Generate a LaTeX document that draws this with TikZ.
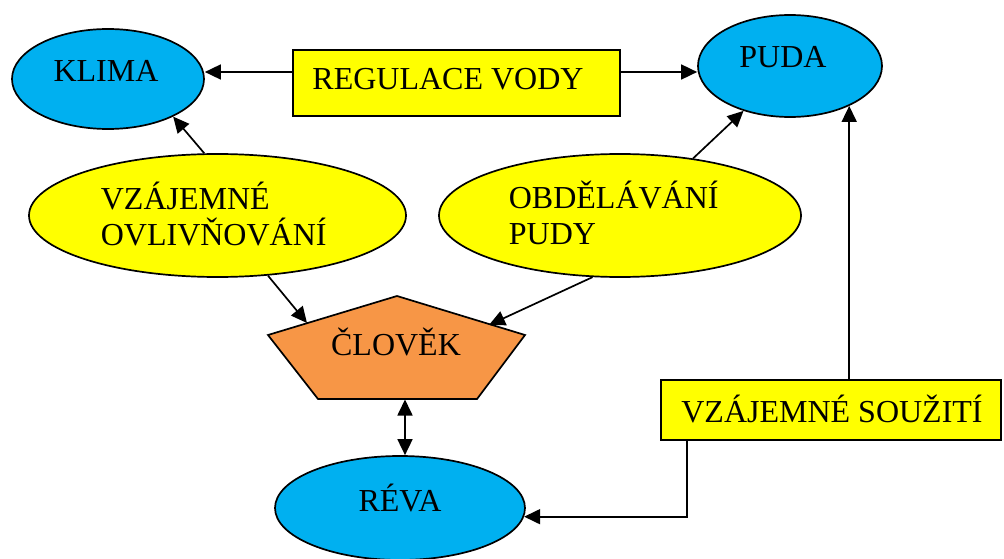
\documentclass[tikz,border=0pt]{standalone}
\usepackage{fontspec}
\setmainfont{Liberation Serif}
\usetikzlibrary{arrows.meta,shapes.geometric}
\definecolor{skyb}{HTML}{00B0F0}
\definecolor{yel}{HTML}{FFFF00}
\definecolor{orng}{HTML}{F79646}
\begin{document}
\begin{tikzpicture}[x=1pt,y=-1pt,line width=1.7pt,
  ell/.style={ellipse,draw=black,inner sep=0pt},
  box/.style={rectangle,draw=black,fill=yel,inner sep=0pt},
  txt/.style={font=\fontsize{32}{36}\selectfont,inner sep=0pt},
  arr/.style={-{Triangle[length=16pt,width=15pt]}},
  arrb/.style={{Triangle[length=16pt,width=15pt]}-{Triangle[length=16pt,width=15pt]}}]
\path[use as bounding box] (0,0) rectangle (1004,559);

% shapes
\node[ell,fill=skyb,minimum width=192pt,minimum height=100pt] (klima) at (108,79) {};
\node[ell,fill=skyb,minimum width=184pt,minimum height=102pt] (puda) at (790,66) {};
\node[ell,fill=yel,minimum width=377pt,minimum height=123pt] (ovl) at (217.5,215.5) {};
\node[ell,fill=yel,minimum width=362pt,minimum height=123pt] (obd) at (620,215.5) {};
\node[ell,fill=skyb,minimum width=250pt,minimum height=104pt] (reva) at (400,508) {};
\node[box,minimum width=327pt,minimum height=66pt] (reg) at (456.5,83) {};
\node[box,minimum width=340pt,minimum height=60pt] (souz) at (831,410) {};

\coordinate (pT) at (397,296);
\coordinate (pR) at (525,335);
\coordinate (pBR) at (477,399);
\coordinate (pBL) at (318,399);
\coordinate (pL) at (268,335);
\draw[fill=orng,line join=miter] (pT) -- (pR) -- (pBR) -- (pBL) -- (pL) -- cycle;
\coordinate (clA) at (307,323);
\coordinate (clB) at (489,325);
\coordinate (clC) at (405,399.5);

% connectors
\coordinate (rw) at ([yshift=11pt]reg.west);
\coordinate (re) at ([yshift=11pt]reg.east);
\draw[arr] (rw) -- (rw -| klima.east);
\draw[arr] (re) -- (re -| puda.west);
\draw[arr] (ovl.102) -- (klima.-30);
\draw[arr] (obd.38) -- (puda.-136);
\draw[arr] (ovl.-50) -- (clA);
\draw[arr] (obd.-114) -- (clB);
\draw[arrb] (clC) -- (clC |- reva.north);
\draw[arr] (souz.north -| puda.-34) -- (puda.-34);
\draw[arr] ([xshift=27pt]souz.south west) |- (reva.-4);

% texts
\node[txt,anchor=base] (tklima) at (106,82) {KLIMA};
\node[txt,anchor=base] (tpuda) at (783,68) {PUDA};
\node[txt,anchor=base] (treg) at (448,90) {REGULACE VODY};
\node[txt,align=left,anchor=south west,text depth=0pt] (tovl) at (100,246) {VZÁJEMNÉ\\OVLIVŇOVÁNÍ};
\node[txt,align=left,anchor=south west,text depth=0pt] (tobd) at (508,245) {OBDĚLÁVÁNÍ\\PUDY};
\node[txt,anchor=base] (tcl) at (396,355) {ČLOVĚK};
\node[txt,anchor=base] (treva) at (400,511) {RÉVA};
\node[txt,anchor=base] (tsouz) at (832,422) {VZÁJEMNÉ SOUŽITÍ};
\end{tikzpicture}
\end{document}
